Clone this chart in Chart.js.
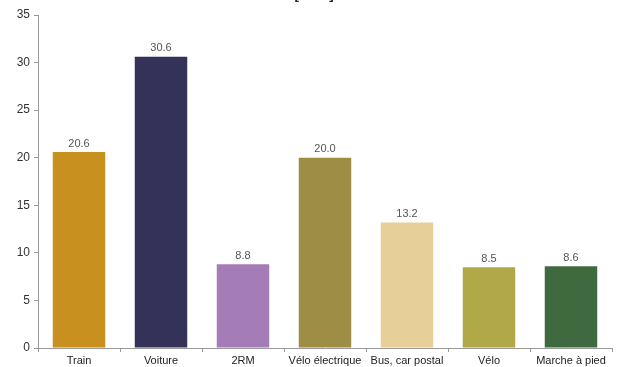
<!DOCTYPE html>
<html>
<head>
<meta charset="utf-8">
<script src="https://cdn.jsdelivr.net/npm/chart.js@4"></script>
<style>
  html, body { margin: 0; padding: 0; background: #fff; }
  #wrap { width: 617px; height: 367px; }
</style>
</head>
<body>
<div id="wrap"><canvas id="chart" width="617" height="367"></canvas></div>
<script>
const categories = ['Train', 'Voiture', '2RM', 'Vélo électrique', 'Bus, car postal', 'Vélo', 'Marche à pied'];
const speeds = [20.6, 30.6, 8.8, 20.0, 13.2, 8.5, 8.6];
const barColors = ['#C8901E', '#35325A', '#A47DB6', '#9E8D45', '#E6CF98', '#B1A948', '#3F6A3F'];
const unitTitle = '[km/h]';

// value above each bar
const valueLabels = {
    id: 'valueLabels',
    afterDatasetsDraw(chart) {
        const ctx = chart.ctx;
        const meta = chart.getDatasetMeta(0);
        ctx.save();
        ctx.font = '11px "Liberation Sans", Arial, sans-serif';
        ctx.fillStyle = '#555';
        ctx.textAlign = 'center';
        ctx.textBaseline = 'bottom';
        meta.data.forEach((bar, i) => {
            ctx.fillText(speeds[i].toFixed(1), bar.x, bar.y - 3);
        });
        ctx.restore();
    }
};

// title is cut off at the top edge in the original
const cutTitle = {
    id: 'cutTitle',
    afterDraw(chart) {
        const ctx = chart.ctx;
        ctx.save();
        ctx.font = 'bold 13px "Liberation Sans", Arial, sans-serif';
        ctx.fillStyle = '#222';
        ctx.textAlign = 'center';
        ctx.textBaseline = 'alphabetic';
        ctx.fillText(unitTitle, 314, -1);
        ctx.restore();
    }
};

const ctx = document.getElementById('chart').getContext('2d');
new Chart(ctx, {
    type: 'bar',
    data: {
        labels: categories,
        datasets: [{
            data: speeds,
            backgroundColor: barColors,
            borderWidth: 0,
            categoryPercentage: 1,
            barPercentage: 0.64,
        }],
    },
    options: {
        responsive: false,
        animation: false,
        layout: { padding: { top: 15, right: 5, left: 0, bottom: 0 } },
        plugins: {
            legend: { display: false },
            tooltip: { enabled: false },
        },
        scales: {
            y: {
                min: 0,
                max: 35,
                ticks: {
                    stepSize: 5,
                    color: '#333',
                    padding: 4,
                    font: { family: '"Liberation Sans", Arial, sans-serif', size: 12 },
                },
                grid: { drawOnChartArea: false, drawTicks: true, tickLength: 4, color: '#999' },
                border: { color: '#999' },
                afterFit(scale) { scale.width = 38; },
            },
            x: {
                ticks: {
                    color: '#222',
                    padding: 2,
                    maxRotation: 0,
                    autoSkip: false,
                    font: { family: '"Liberation Sans", Arial, sans-serif', size: 11 },
                },
                grid: { drawOnChartArea: false, drawTicks: true, tickLength: 4, color: '#999', offset: true },
                border: { color: '#999' },
                afterFit(scale) { scale.height = 19; },
            },
        },
    },
    plugins: [valueLabels, cutTitle],
});
</script>
</body>
</html>
